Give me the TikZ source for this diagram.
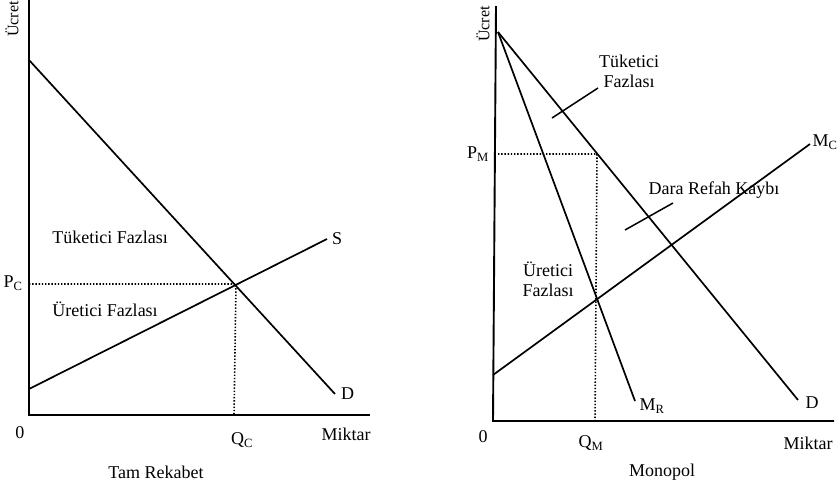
\documentclass[tikz,border=0pt]{standalone}
\usepackage{fontspec}
\setmainfont{Liberation Serif}
\usetikzlibrary{positioning}

\begin{document}
\begin{tikzpicture}[
    x=1pt, y=-1pt,
    axis/.style={line width=1.9pt},
    curve/.style={line width=1.7pt},
    guide/.style={line width=1.6pt, dash pattern=on 1.4pt off 1.8pt},
    leader/.style={line width=1.5pt},
    lbl/.style={font=\fontsize{18}{20}\selectfont, inner sep=1pt, align=center}
]
\useasboundingbox (0,0) rectangle (838,491);

% left panel: Tam Rekabet
\coordinate (o1) at (29,415);
\coordinate (ytop1) at (29,0);
\coordinate (xend1) at (370,415);
\coordinate (d1a) at (29,60);
\coordinate (d1b) at (335,394);
\coordinate (s1a) at (29,389);
\coordinate (s1b) at (327,239);
\coordinate (eq1) at (236,284);
\coordinate (pc) at (29,284);
\coordinate (qc) at (234,415);
\draw[axis] (ytop1) -- (o1) -- (xend1);
\draw[curve] (d1a) -- (d1b);
\draw[curve] (s1a) -- (s1b);
\draw[guide] (pc) -- (eq1) -- (qc);
\node[lbl, rotate=90, font=\fontsize{16}{18}\selectfont] (ucret1) at (12,19) {Ücret};
\node[lbl] (pclbl) at (13,283) {P\textsubscript{C}};
\node[lbl, right=4pt of s1b] (slbl) {S};
\node[lbl, right=5pt of d1b] (dlbl1) {D};
\node[lbl] (tf1) at (110,237) {Tüketici Fazlası};
\node[lbl] (uf1) at (105,309) {Üretici Fazlası};
\node[lbl] (zero1) at (20,433) {0};
\node[lbl] (qclbl) at (242,440) {Q\textsubscript{C}};
\node[lbl] (mik1) at (346,434) {Miktar};
\node[lbl] (title1) at (156,472) {Tam Rekabet};

% right panel: Monopol
\coordinate (o2) at (493,421);
\coordinate (ytop2) at (496,6);
\coordinate (xend2) at (834,421);
\coordinate (top2) at (498,32);
\coordinate (d2b) at (798,400);
\coordinate (mr2b) at (635,401);
\coordinate (mc2a) at (493,375);
\coordinate (mc2b) at (810,144);
\coordinate (pm) at (498,154);
\coordinate (pd) at (597,154);
\coordinate (qm) at (595,421);
\draw[axis] (ytop2) -- (o2) -- (xend2);
\draw[curve] (top2) -- (d2b);
\draw[curve] (top2) -- (mr2b);
\draw[curve] (mc2a) -- (mc2b);
\draw[guide] (pm) -- (pd) -- (qm);
\node[lbl, rotate=90, font=\fontsize{16}{18}\selectfont] (ucret2) at (483,24) {Ücret};
\node[lbl] (pmlbl) at (478,154) {P\textsubscript{M}};
\node[lbl] (mclbl) at (825,142) {M\textsubscript{C}};
\node[lbl] (mrlbl) at (652,406) {M\textsubscript{R}};
\node[lbl] (dlbl2) at (812,403) {D};
\node[lbl] (tf2) at (629,71) {Tüketici\\Fazlası};
\coordinate (tf2a) at (598,88);
\coordinate (tf2b) at (552,118);
\draw[leader] (tf2a) -- (tf2b);
\node[lbl] (drk) at (714,190) {Dara Refah Kaybı};
\coordinate (drka) at (673,203);
\coordinate (drkb) at (625,230);
\draw[leader] (drka) -- (drkb);
\node[lbl] (uf2) at (548,279) {Üretici\\Fazlası};
\node[lbl] (zero2) at (483,437) {0};
\node[lbl] (qmlbl) at (591,443) {Q\textsubscript{M}};
\node[lbl] (mik2) at (808,443) {Miktar};
\node[lbl] (title2) at (662,472) {Monopol};
\end{tikzpicture}
\end{document}
